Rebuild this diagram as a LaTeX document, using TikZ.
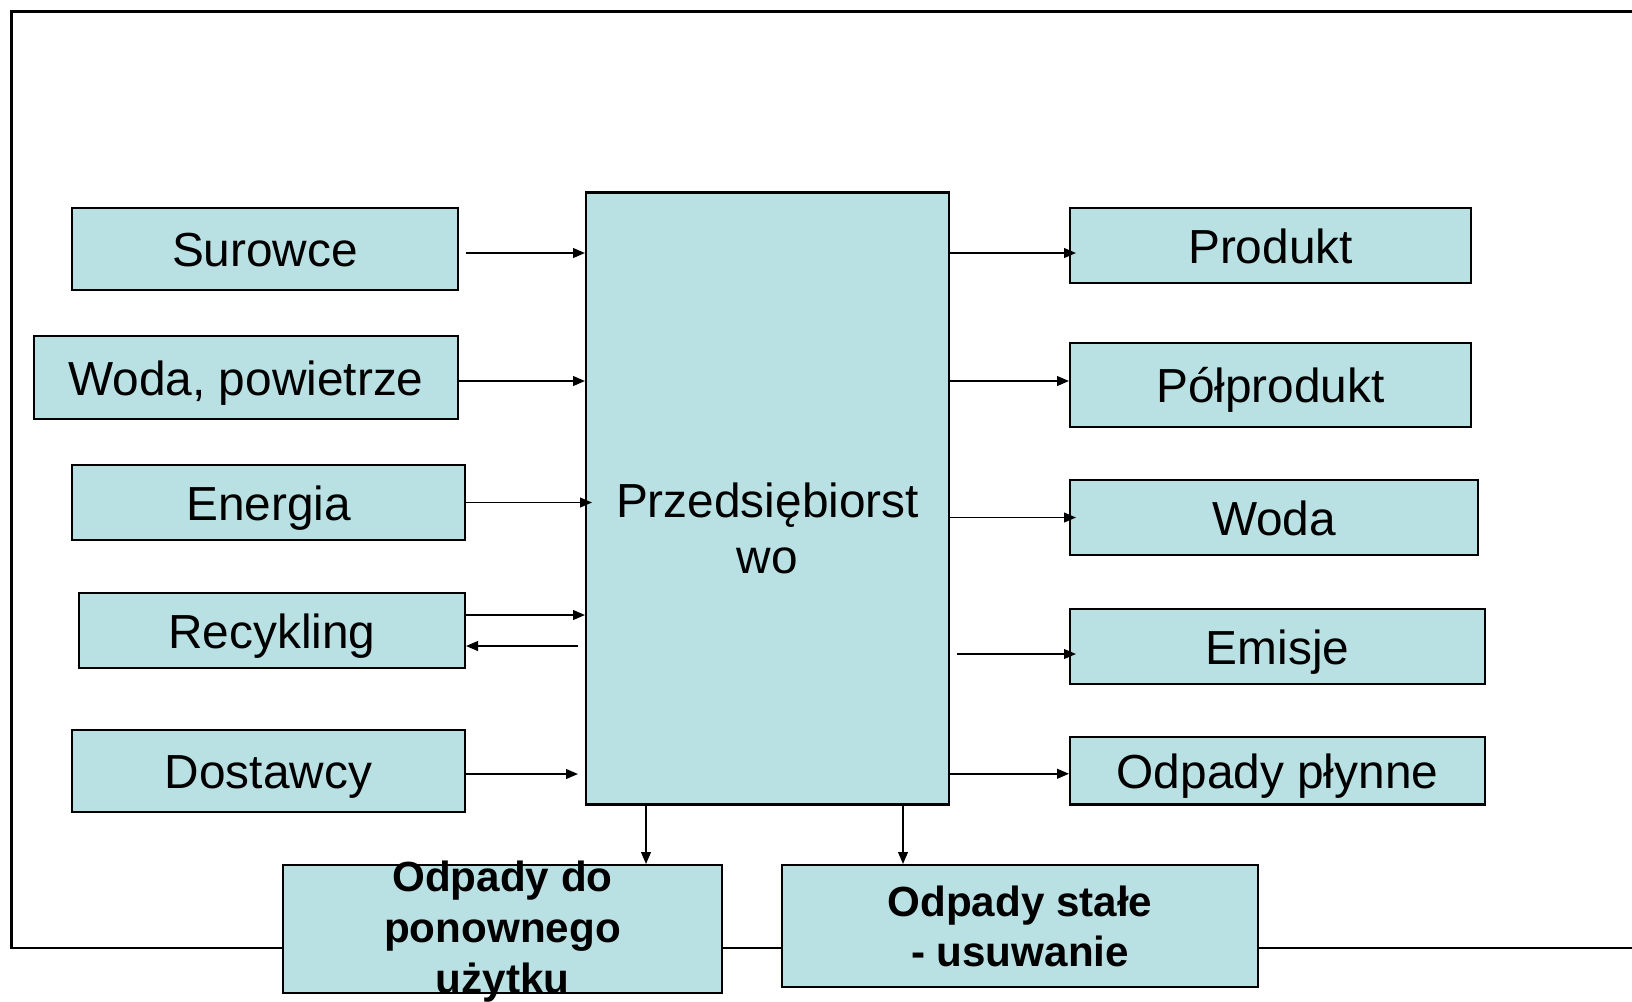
\documentclass[tikz,border=0pt]{standalone}
\usepackage{fontspec}
\setmainfont{Liberation Sans}
\usetikzlibrary{arrows.meta}
\definecolor{boxfill}{RGB}{185,224,227}

\begin{document}
\begin{tikzpicture}[x=1cm, y=-1cm,
        > = {Triangle[length=3.4pt,width=2.8pt]},
 frame/.style = {draw, line width=0.6pt, fill=boxfill, inner sep=0pt},
   box/.style = {frame, text height=10pt, text depth=0pt,
                 font=\fontsize{13.6pt}{16pt}\selectfont},
 waste/.style = {frame, align=center,
                 font=\fontsize{12pt}{14.2pt}\selectfont\bfseries},
  flow/.style = {line width=0.45pt, ->}
                        ]
% frame
\useasboundingbox (0,0) rectangle (16.32,10.01);
\draw[line width=0.7pt] (16.5,0.114) -- (0.114,0.114) -- (0.114,9.48) -- (16.5,9.48);
% inputs
\node[box, minimum width=3.86cm, minimum height=0.82cm] (surowce) at (2.65,2.49) {Surowce};
\node[box, minimum width=4.24cm, minimum height=0.83cm] (wodapow) at (2.46,3.775) {Woda, powietrze};
\node[box, minimum width=3.93cm, minimum height=0.75cm] (energia) at (2.685,5.025) {Energia};
\node[box, minimum width=3.86cm, minimum height=0.75cm] (recykling) at (2.72,6.305) {Recykling};
\node[box, minimum width=3.93cm, minimum height=0.82cm] (dostawcy) at (2.685,7.71) {Dostawcy};
% company
\node[frame, minimum width=3.63cm, minimum height=6.12cm,
      label={[align=center, inner sep=0pt, yshift=-2.95mm,
              font=\fontsize{13.6pt}{15.9pt}\selectfont]center:Przedsiębiorst\\wo}]
      (firma) at (7.675,4.985) {};
% outputs
\node[box, minimum width=4.01cm, minimum height=0.75cm] (produkt) at (12.705,2.455) {Produkt};
\node[box, minimum width=4.01cm, minimum height=0.835cm] (polprodukt) at (12.705,3.85) {Półprodukt};
\node[box, minimum width=4.08cm, minimum height=0.75cm] (woda) at (12.74,5.175) {Woda};
\node[box, minimum width=4.15cm, minimum height=0.75cm] (emisje) at (12.775,6.465) {Emisje};
\node[box, minimum width=4.15cm, minimum height=0.675cm] (plynne) at (12.775,7.7075) {Odpady płynne};
% waste
\node[frame, minimum width=4.39cm, minimum height=1.28cm,
      label={[align=center, inner sep=0pt, yshift=-0.25mm,
              font=\fontsize{12pt}{14.6pt}\selectfont\bfseries]center:Odpady do\\ponownego\\użytku}]
      (ponowne) at (5.025,9.29) {};
\node[waste, minimum width=4.76cm, minimum height=1.22cm] (stale) at (10.20,9.26) {Odpady stałe\\- usuwanie};
% arrows in
\draw[flow] ([xshift=0.7mm,yshift=-0.4mm]surowce.east) -- ([yshift=-0.4mm]surowce.east -| firma.west);
\draw[flow] ([yshift=-0.35mm]wodapow.east) -- ([yshift=-0.35mm]wodapow.east -| firma.west);
\draw[flow] (energia.east) -- ([xshift=0.7mm]energia.east -| firma.west);
\draw[flow] ([yshift=1.55mm]recykling.east) -- ([yshift=1.55mm]recykling.east -| firma.west);
\draw[flow] ([xshift=-0.7mm,yshift=-1.55mm]recykling.east -| firma.west) -- ([yshift=-1.55mm]recykling.east);
\draw[flow] ([yshift=-0.3mm]dostawcy.east) -- ([xshift=-0.7mm,yshift=-0.3mm]dostawcy.east -| firma.west);
% arrows out
\draw[flow] ([yshift=-0.75mm]produkt.west -| firma.east) -- ([xshift=0.7mm,yshift=-0.75mm]produkt.west);
\draw[flow] ([yshift=0.4mm]polprodukt.west -| firma.east) -- ([yshift=0.4mm]polprodukt.west);
\draw[flow] (woda.west -| firma.east) -- ([xshift=0.7mm]woda.west);
\draw[flow] ([xshift=0.7mm,yshift=-0.75mm]emisje.west -| firma.east) -- ([xshift=0.7mm,yshift=-0.75mm]emisje.west);
\draw[flow] ([yshift=-0.3mm]plynne.west -| firma.east) -- ([yshift=-0.3mm]plynne.west);
% arrows down
\draw[flow] ([xshift=-12.15mm]firma.south) -- ([xshift=-12.15mm]firma.south |- ponowne.north);
\draw[flow] ([xshift=13.55mm]firma.south) -- ([xshift=13.55mm]firma.south |- stale.north);
\end{tikzpicture}
\end{document}
